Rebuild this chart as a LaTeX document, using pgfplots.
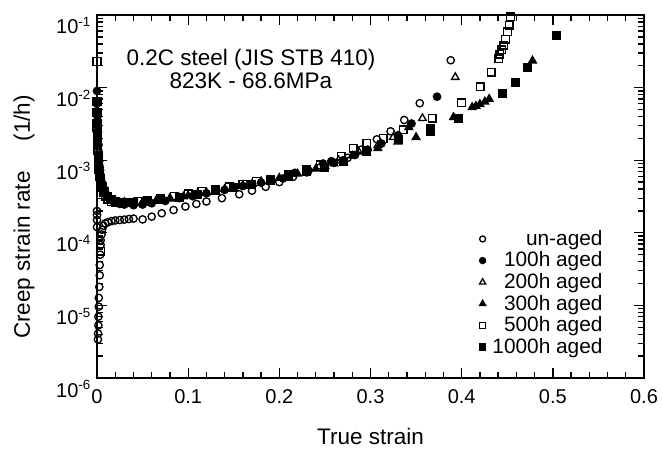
\documentclass[border=0pt]{standalone}
\usepackage{fontspec}
\setmainfont{Liberation Sans}
\usepackage{pgfplots}
\pgfplotsset{compat=1.18}
\newcommand{\tp}[1]{10\textsuperscript{#1}}
\begin{document}
\begin{tikzpicture}
\begin{axis}[name=ax, at={(0,0)}, anchor=south west,
  width=328.2pt, height=217.8pt, scale only axis,
  xmin=0, xmax=0.6, ymin=1e-6, ymax=1e-1, ymode=log,
  xtick={0,0.1,0.2,0.3,0.4,0.5,0.6},
  xticklabels={0,0.1,0.2,0.3,0.4,0.5,0.6},
  minor x tick num=4,
  ytick={1e-6,1e-5,1e-4,1e-3,1e-2,1e-1},
  yticklabels={\tp{-6},\tp{-5},\tp{-4},\tp{-3},\tp{-2},\tp{-1}},
  tick align=inside,
  major tick length=6pt, minor tick length=3.5pt,
  every tick/.style={black, line width=0.8pt},
  axis line style={line width=1pt},
  ticklabel style={font=\fontsize{12}{13}\selectfont},
  xticklabel style={yshift=-3.5pt},
  yticklabel style={yshift=-6.5pt},
  label style={font=\fontsize{13.5}{14}\selectfont},
  xlabel={True strain},
  ylabel={Creep strain rate\hspace{18pt}(1/h)},
  xlabel style={at={(axis description cs:0.5,-0.16)}, anchor=center},
  ylabel style={at={(axis description cs:-0.1335,0.4435)}, anchor=center},
  legend style={at={(axis description cs:0.94,0.042)}, anchor=south east,
    draw=none, fill=none, font=\fontsize{12.5}{13}\selectfont, row sep=-1.6pt,
    /tikz/every odd column/.append style={column sep=2pt}},
  legend cell align=right,
  every axis plot/.append style={only marks, black, line width=0.8pt},
]
\addlegendimage{only marks, mark=o, mark size=1.8pt, line width=0.8pt}
\addlegendentry{un-aged}
\addlegendimage{only marks, mark=*, mark size=1.8pt}
\addlegendentry{100h aged}
\addlegendimage{only marks, mark=triangle, mark size=2.1pt, line width=0.8pt}
\addlegendentry{200h aged}
\addlegendimage{only marks, mark=triangle*, mark size=2.1pt}
\addlegendentry{300h aged}
\addlegendimage{only marks, mark=square, mark size=1.9pt, line width=0.8pt}
\addlegendentry{500h aged}
\addlegendimage{only marks, mark=square*, mark size=1.9pt}
\addlegendentry{1000h aged}

% un-aged
\addplot[forget plot, mark=o, mark size=2.2pt] coordinates {
(0.001,3.4e-6)(0.0012,4.1e-6)(0.0015,5.3e-6)(0.0015,7.0e-6)(0.002,9.6e-6)
(0.002,1.27e-5)(0.0025,1.8e-5)(0.003,2.6e-5)(0.003,3.6e-5)(0.0035,5e-5)
(0.004,6.8e-5)(0.004,7.9e-5)(0.0,1.5e-4)(0.0,1.76e-4)(0.0,2.0e-4)(0.0,1.2e-4)
(0.005,9.5e-5)(0.0055,1.1e-4)(0.007,1.25e-4)(0.009,1.35e-4)(0.012,1.4e-4)
(0.016,1.45e-4)(0.02,1.48e-4)(0.025,1.5e-4)(0.03,1.52e-4)(0.035,1.55e-4)
(0.04,1.57e-4)(0.05,1.53e-4)(0.06,1.67e-4)(0.071,1.86e-4)(0.084,2.06e-4)
(0.097,2.3e-4)(0.109,2.5e-4)(0.12,2.7e-4)(0.137,3.0e-4)(0.156,3.4e-4)
(0.17,3.8e-4)(0.185,4.3e-4)(0.2,5.0e-4)(0.215,5.9e-4)(0.23,6.8e-4)
(0.245,8.0e-4)(0.26,9.2e-4)(0.275,1.08e-3)(0.29,1.4e-3)(0.307,1.94e-3)
(0.322,2.5e-3)(0.337,3.58e-3)(0.354,6.1e-3)(0.388,2.38e-2)
};
% 100h
\addplot[forget plot, mark=*, mark size=2.2pt] coordinates {
(0.0,9e-3)(0.0,6e-3)(0.0005,4e-3)(0.001,2.5e-3)(0.0015,1.6e-3)(0.002,1.1e-3)
(0.003,8e-4)(0.004,6.2e-4)(0.005,5e-4)(0.007,4.2e-4)(0.009,3.6e-4)
(0.012,3.1e-4)(0.016,2.8e-4)(0.02,2.6e-4)(0.025,2.5e-4)(0.03,2.45e-4)
(0.04,2.4e-4)(0.05,2.45e-4)(0.06,2.55e-4)(0.075,2.75e-4)(0.09,3.0e-4)
(0.105,3.2e-4)(0.12,3.5e-4)(0.14,3.9e-4)(0.16,4.4e-4)(0.18,4.9e-4)
(0.204,5.6e-4)(0.217,6.7e-4)(0.232,7.2e-4)(0.248,9.0e-4)(0.257,9.7e-4)
(0.27,1.0e-3)(0.283,1.18e-3)(0.297,1.4e-3)(0.312,1.7e-3)(0.33,2.2e-3)
(0.345,3.2e-3)(0.373,7.5e-3)
};
% 200h
\addplot[forget plot, mark=triangle, mark size=2.6pt] coordinates {
(0.0,4.5e-3)(0.0,3.5e-3)(0.0005,2.6e-3)(0.001,1.8e-3)(0.0015,1.3e-3)
(0.002,9.5e-4)(0.003,7e-4)(0.004,5.5e-4)(0.006,4.4e-4)(0.008,3.7e-4)
(0.011,3.2e-4)(0.015,2.9e-4)(0.02,2.7e-4)(0.025,2.6e-4)(0.032,2.55e-4)
(0.04,2.55e-4)(0.05,2.6e-4)(0.065,2.75e-4)(0.08,2.95e-4)(0.095,3.15e-4)
(0.11,3.4e-4)(0.13,3.75e-4)(0.15,4.2e-4)(0.17,4.7e-4)(0.19,5.3e-4)
(0.21,6.1e-4)(0.23,7.0e-4)(0.25,8.3e-4)(0.265,1.0e-3)(0.287,1.31e-3)
(0.308,1.6e-3)(0.325,2.07e-3)(0.357,3.78e-3)(0.393,1.39e-2)
};
% 300h
\addplot[forget plot, mark=triangle*, mark size=2.6pt] coordinates {
(0.0,5e-3)(0.0,3e-3)(0.0005,2e-3)(0.001,1.5e-3)(0.002,1.05e-3)(0.003,7.8e-4)
(0.004,6e-4)(0.006,4.8e-4)(0.008,4e-4)(0.011,3.4e-4)(0.015,3e-4)(0.02,2.8e-4)
(0.03,2.65e-4)(0.04,2.6e-4)(0.05,2.65e-4)(0.065,2.8e-4)(0.08,3e-4)
(0.1,3.25e-4)(0.12,3.6e-4)(0.14,4.0e-4)(0.16,4.5e-4)(0.18,5.1e-4)
(0.2,5.7e-4)(0.22,6.5e-4)(0.24,7.6e-4)(0.26,9.0e-4)(0.28,1.15e-3)
(0.308,1.46e-3)(0.33,1.8e-3)(0.342,2.84e-3)(0.35,2.07e-3)(0.391,3.9e-3)
(0.4115,5.36e-3)(0.4156,5.58e-3)(0.42,5.9e-3)(0.4254,6.4e-3)(0.4302,6.97e-3)
(0.4777,2.35e-2)
};
% 500h
\addplot[forget plot, mark=square, mark size=2.3pt] coordinates {
(0.0,2.3e-2)(0.0,2.8e-3)(0.0005,1.9e-3)(0.001,1.35e-3)(0.0015,9.5e-4)
(0.002,7.5e-4)(0.003,6e-4)(0.004,5e-4)(0.005,4.2e-4)(0.007,3.6e-4)
(0.009,3.2e-4)(0.012,2.9e-4)(0.016,2.7e-4)(0.02,2.6e-4)(0.004,5.5e-5)
(0.025,2.6e-4)(0.035,2.6e-4)(0.045,2.7e-4)(0.055,2.8e-4)(0.07,3.0e-4)
(0.085,3.2e-4)(0.1,3.45e-4)(0.115,3.7e-4)(0.13,3.95e-4)(0.145,4.3e-4)
(0.16,4.7e-4)(0.175,5.1e-4)(0.19,5.5e-4)(0.21,6.3e-4)(0.23,7.4e-4)
(0.245,8.6e-4)(0.268,1.14e-3)(0.281,1.46e-3)(0.296,1.71e-3)(0.314,2.0e-3)
(0.336,2.61e-3)(0.3677,3.78e-3)(0.3999,6.2e-3)(0.4203,1.02e-2)(0.4323,1.64e-2)
(0.4408,2.5e-2)(0.4419,2.9e-2)(0.4441,3.3e-2)(0.4463,3.86e-2)(0.4481,4.63e-2)
(0.4503,5.84e-2)(0.452,7.28e-2)(0.4536,9.48e-2)
};
% 1000h
\addplot[forget plot, mark=square*, mark size=2.3pt] coordinates {
(0.0,6.5e-3)(0.0,4.5e-3)(0.0,3.2e-3)(0.0005,2.3e-3)(0.001,1.6e-3)
(0.0015,1.15e-3)(0.002,8.5e-4)(0.003,6.5e-4)(0.004,5.3e-4)(0.006,4.3e-4)
(0.008,3.7e-4)(0.011,3.2e-4)(0.015,2.9e-4)(0.02,2.7e-4)(0.03,2.6e-4)
(0.04,2.6e-4)(0.055,2.7e-4)(0.07,2.9e-4)(0.09,3.1e-4)(0.11,3.4e-4)
(0.13,3.8e-4)(0.15,4.2e-4)(0.17,4.7e-4)(0.19,5.3e-4)(0.21,6.0e-4)
(0.23,6.9e-4)(0.25,8.0e-4)(0.27,9.5e-4)(0.296,1.31e-3)(0.331,1.9e-3)
(0.3662,2.47e-3)(0.366,2.7e-3)(0.3962,3.78e-3)(0.4448,8.24e-3)
(0.4587,1.18e-2)(0.4718,1.88e-2)(0.504,5.25e-2)
};
\node[align=center, font=\fontsize{13.5}{13.8}\selectfont] at (rel axis cs:0.2815,0.8526)
  {0.2C steel (JIS STB 410)\\823K - 68.6MPa};
\end{axis}
\pgfresetboundingbox
\path (ax.south west) ++(-58.2pt,-42pt) rectangle ++(397.8pt,268.8pt);
\end{tikzpicture}
\end{document}
